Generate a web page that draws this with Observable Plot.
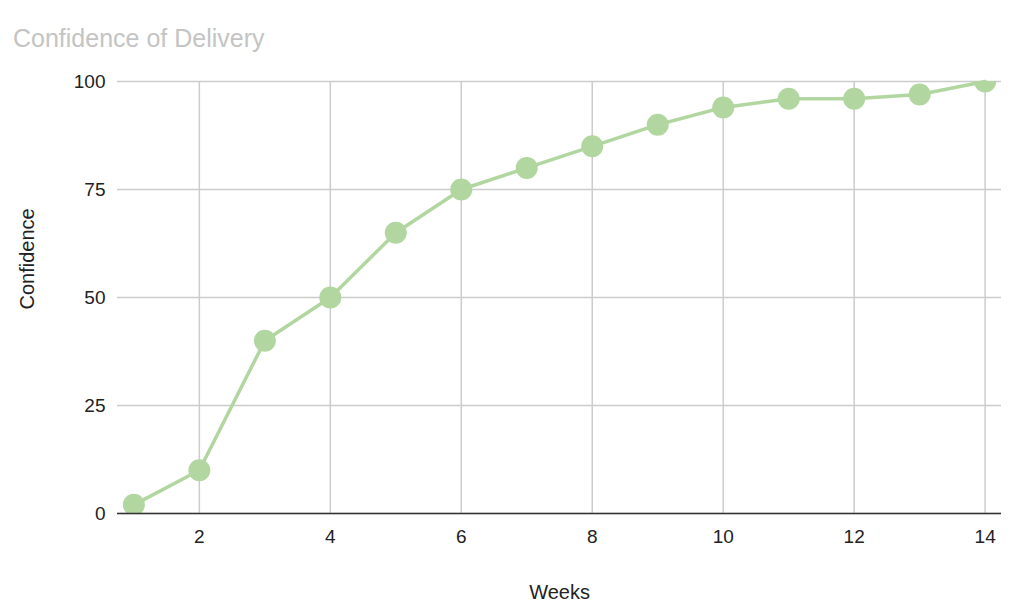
<!DOCTYPE html>
<html>
<head>
<meta charset="utf-8">
<script src="https://cdn.jsdelivr.net/npm/d3@7"></script>
<script src="https://cdn.jsdelivr.net/npm/@observablehq/plot@0.6"></script>
<style>
  body { margin: 0; background: #fff; font-family: "Liberation Sans", Arial, sans-serif; }
  #title { height: 60px; box-sizing: border-box; padding: 25px 0 0 13px; font-size: 25px; color: #c4c4c4; line-height: 26px; white-space: nowrap; }
</style>
</head>
<body>
<div id="title">Confidence of Delivery</div>
<div id="chart"></div>
<script>
const weeks = [1, 2, 3, 4, 5, 6, 7, 8, 9, 10, 11, 12, 13, 14];
const confidence = [2, 10, 40, 50, 65, 75, 80, 85, 90, 94, 96, 96, 97, 100];
const xTicks = [2, 4, 6, 8, 10, 12, 14];
const yTicks = [0, 25, 50, 75, 100];

const data = weeks.map((w, i) => ({week: w, confidence: confidence[i]}));
const green = "#b2d6a0";

const chart = Plot.plot({
  width: 1024,
  height: 554,
  marginLeft: 117,
  marginRight: 23,
  marginTop: 21,
  marginBottom: 101,
  style: {fontFamily: "'Liberation Sans', Arial, sans-serif", fontSize: "19px", color: "#222"},
  x: {domain: [0.75, 14.25], ticks: xTicks, label: null},
  y: {domain: [0, 100], ticks: yTicks, label: null},
  marks: [
    Plot.gridX(xTicks, {stroke: "#cccccc", strokeOpacity: 1, strokeWidth: 1.5}),
    Plot.gridY(yTicks, {stroke: "#cccccc", strokeOpacity: 1, strokeWidth: 1.5}),
    Plot.axisX({ticks: xTicks, tickSize: 0, tickPadding: 16, fontSize: 19, label: null}),
    Plot.axisY({ticks: yTicks, tickSize: 0, tickPadding: 12, fontSize: 19, label: null}),
    Plot.line(data, {x: "week", y: "confidence", stroke: green, strokeWidth: 3.5}),
    Plot.dot(data, {x: "week", y: "confidence", r: 11, fill: green, stroke: "none", clip: true}),
    Plot.ruleY([0], {stroke: "#333", strokeWidth: 1.5}),
    Plot.text(["Weeks"], {frameAnchor: "bottom", lineAnchor: "middle", dy: 79, fontSize: 20, fill: "#222", text: d => d}),
    Plot.text(["Confidence"], {frameAnchor: "left", dx: -90, dy: 12, rotate: -90, fontSize: 20, fill: "#222", text: d => d})
  ]
});
document.getElementById("chart").appendChild(chart);
</script>
</body>
</html>
